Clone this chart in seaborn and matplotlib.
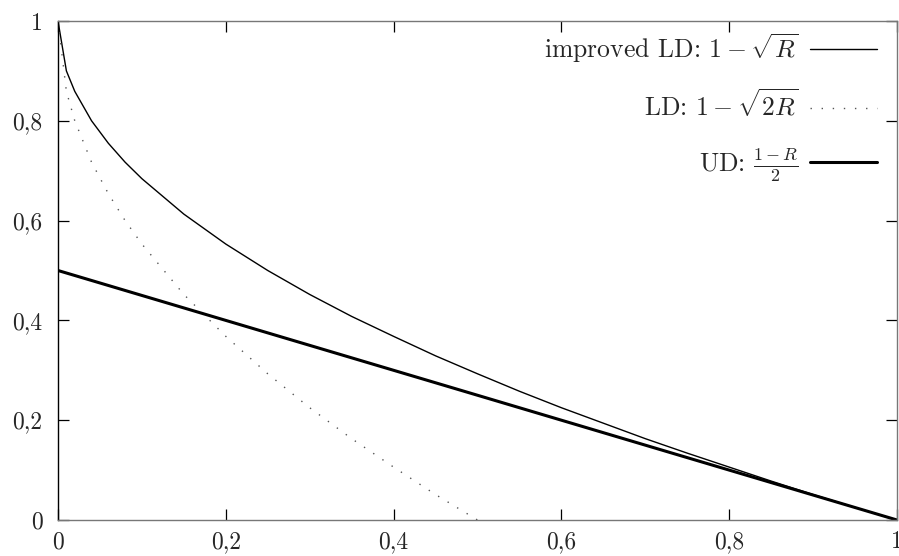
import matplotlib
matplotlib.use("Agg")
import matplotlib.pyplot as plt
import seaborn as sns
import pandas as pd

# values
r_improved = [0, 0.01, 0.02, 0.04, 0.06, 0.08, 0.1, 0.15, 0.2, 0.25, 0.3, 0.35, 0.4,
              0.45, 0.5, 0.55, 0.6, 0.65, 0.7, 0.75, 0.8, 0.85, 0.9, 0.95, 1.0]
d_improved = [1.0, 0.90, 0.859, 0.80, 0.755, 0.717, 0.684, 0.613, 0.553, 0.50, 0.452, 0.408, 0.368,
              0.329, 0.293, 0.258, 0.225, 0.194, 0.163, 0.134, 0.106, 0.078, 0.051, 0.025, 0.0]

r_ld = [0, 0.01, 0.02, 0.04, 0.06, 0.08, 0.1, 0.15, 0.2, 0.25, 0.3, 0.35, 0.4, 0.45, 0.5]
d_ld = [1.0, 0.859, 0.80, 0.717, 0.654, 0.60, 0.553, 0.452, 0.368, 0.293, 0.225, 0.163, 0.106, 0.051, 0.0]

r_ud = [0, 0.2, 0.4, 0.6, 0.8, 1.0]
d_ud = [0.5, 0.4, 0.3, 0.2, 0.1, 0.0]

labels = [r"improved LD: $1-\sqrt{R}$", r"LD: $1-\sqrt{2R}$", r"UD: $\frac{1-R}{2}$"]
tick_vals = [0, 0.2, 0.4, 0.6, 0.8, 1]
tick_text = ["0", "0,2", "0,4", "0,6", "0,8", "1"]

sns.set_style("ticks")
plt.rcParams["font.family"] = ["cmr10", "DejaVu Serif"]
plt.rcParams["mathtext.fontset"] = "cm"
plt.rcParams["axes.unicode_minus"] = False

fig = plt.figure(figsize=(8.99, 5.56), dpi=100)
ax = fig.add_axes([58 / 899, 1 - 520 / 556, (897 - 58) / 899, (520 - 21) / 556])

sns.lineplot(x=r_improved, y=d_improved, ax=ax, color="black", linewidth=1.0,
             sort=False, label=labels[0])
sns.lineplot(x=r_ld, y=d_ld, ax=ax, color="#555555", linewidth=1.0,
             linestyle=(0, (1, 7)), sort=False, label=labels[1])
sns.lineplot(x=r_ud, y=d_ud, ax=ax, color="black", linewidth=2.2,
             sort=False, label=labels[2])

ax.set_xlim(0, 1)
ax.set_ylim(0, 1)
ax.set_xticks(tick_vals)
ax.set_xticklabels(tick_text)
ax.set_yticks(tick_vals)
ax.set_yticklabels(tick_text)
ax.tick_params(direction="in", length=8, width=0.9, color="black", labelsize=17,
               top=True, right=True)
ax.tick_params(axis="x", pad=8)
ax.tick_params(axis="y", pad=11)
for side in ["top", "right", "bottom"]:
    ax.spines[side].set_color("#777777")
    ax.spines[side].set_linewidth(1.0)
ax.spines["left"].set_color("black")
ax.spines["left"].set_linewidth(1.0)

leg = ax.legend(loc="upper right", frameon=False, markerfirst=False, fontsize=18.5,
                handlelength=2.6, handletextpad=0.45, labelspacing=0.95,
                borderpad=0, borderaxespad=0,
                bbox_to_anchor=(877 / 899, 1 - 31 / 556), bbox_transform=fig.transFigure)
for t in leg.get_texts():
    t.set_ha("right")
leg._legend_box.align = "right"

fig.savefig("out.png", dpi=100)
